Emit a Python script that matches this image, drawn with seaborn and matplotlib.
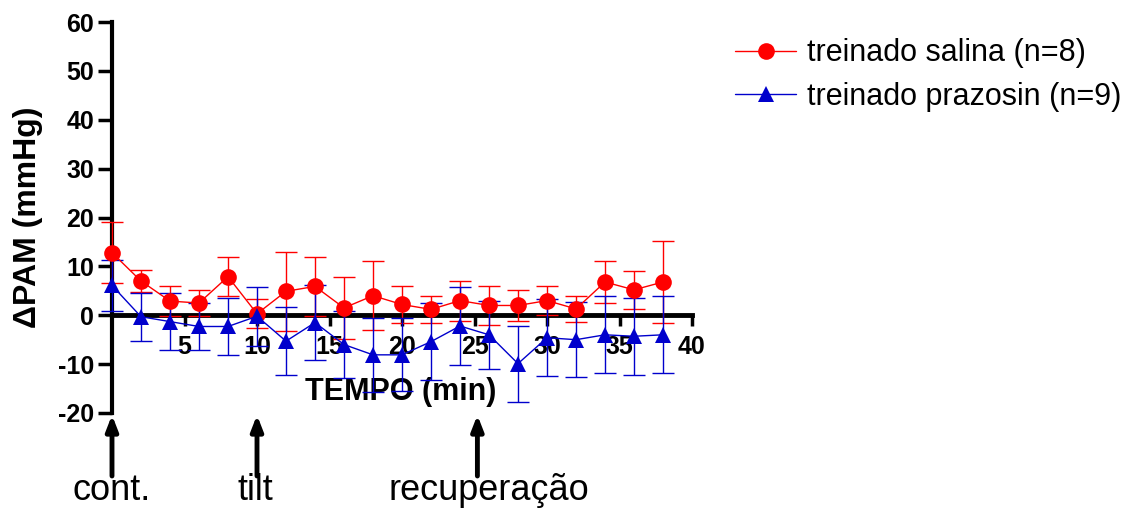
import matplotlib
matplotlib.use("Agg")
import matplotlib.pyplot as plt
import numpy as np
import pandas as pd
import seaborn as sns

# ---- data ----
tempo = [0, 2, 4, 6, 8, 10, 12, 14, 16, 18, 20, 22, 24, 26, 28, 30, 32, 34, 36, 38]
salina_mean = [12.8, 7.0, 2.9, 2.5, 7.9, 0.3, 4.9, 5.9, 1.5, 4.0, 2.2, 1.2, 3.0, 2.0, 2.0, 3.0, 1.3, 6.8, 5.2, 6.8]
salina_sem = [6.3, 2.2, 3.0, 2.6, 4.0, 3.0, 8.1, 6.0, 6.4, 7.0, 3.7, 2.7, 4.1, 3.9, 3.1, 2.9, 2.6, 4.2, 3.9, 8.3]
prazosin_mean = [6.1, -0.3, -1.3, -2.3, -2.3, -0.2, -5.3, -1.5, -6.0, -8.1, -8.1, -5.4, -2.2, -4.0, -9.9, -4.6, -5.0, -4.0, -4.3, -4.0]
prazosin_sem = [5.3, 4.9, 5.9, 4.8, 5.9, 6.0, 6.9, 7.7, 6.8, 7.6, 7.5, 7.9, 7.9, 6.9, 7.8, 7.9, 7.7, 7.9, 7.9, 7.9]
series_labels = ["treinado salina (n=8)", "treinado prazosin (n=9)"]
x_ticks = [5, 10, 15, 20, 25, 30, 35, 40]
y_ticks = [-20, -10, 0, 10, 20, 30, 40, 50, 60]
events = ["cont.", "tilt", "recuperação"]
event_x = [0, 10, 25.2]
event_text_x = [0, 9.9, 26.0]

colors = {series_labels[0]: "#FF0000", series_labels[1]: "#0000CC"}

df = pd.DataFrame({
    "tempo": tempo * 2,
    "pam": salina_mean + prazosin_mean,
    "grupo": [series_labels[0]] * len(tempo) + [series_labels[1]] * len(tempo),
})

sns.set_style("ticks")
plt.rcParams["font.family"] = ["Liberation Sans", "DejaVu Sans"]
plt.rcParams.update({
    "text.color": "black", "axes.labelcolor": "black",
    "xtick.color": "black", "ytick.color": "black",
    "axes.unicode_minus": False,
})

fig = plt.figure(figsize=(11.43, 5.12), dpi=100)
ax = fig.add_axes([112 / 1143, 1 - 413 / 512, 580 / 1143, 391 / 512])

# error bars (SEM)
for lab, m, s in [(series_labels[0], salina_mean, salina_sem),
                  (series_labels[1], prazosin_mean, prazosin_sem)]:
    ax.errorbar(tempo, m, yerr=s, fmt="none", ecolor=colors[lab],
                elinewidth=1.0, capsize=8, capthick=1.0, clip_on=False, zorder=3)

sns.lineplot(data=df, x="tempo", y="pam", hue="grupo", style="grupo",
             palette=colors, markers={series_labels[0]: "o", series_labels[1]: "^"},
             dashes=False, linewidth=1.0, markersize=12, markeredgewidth=0,
             ax=ax, legend=True, zorder=4)
for ln in ax.lines:
    ln.set_clip_on(False)

ax.set_xlim(0, 40)
ax.set_ylim(-20, 60)

# spines
for sp in ["top", "right"]:
    ax.spines[sp].set_visible(False)
ax.spines["left"].set_linewidth(3.0)
ax.spines["left"].set_color("black")
ax.spines["bottom"].set_position(("data", 0))
ax.spines["bottom"].set_linewidth(3.5)
ax.spines["bottom"].set_color("black")
ax.spines["bottom"].set_bounds(0, 40)

ax.set_xticks(x_ticks)
ax.set_yticks(y_ticks)
ax.tick_params(axis="both", which="major", direction="out", length=8, width=2.5,
               color="black", labelsize=18, bottom=True, left=True)
ax.tick_params(axis="y", length=10, pad=3)
ax.tick_params(axis="x", pad=6)
for t in ax.get_xticklabels() + ax.get_yticklabels():
    t.set_fontweight("bold")

ax.set_xlabel("TEMPO (min)", fontsize=22, fontweight="bold")
ax.xaxis.set_label_coords(0.497, 0.054)
ax.xaxis.label.set_va("center")
ax.set_ylabel("ΔPAM (mmHg)", fontsize=23, fontweight="bold")
ax.yaxis.set_label_coords(-0.145, 0.5)
ax.yaxis.label.set_va("center")

# legend
handles, labels = ax.get_legend_handles_labels()
ax.legend(handles, labels, loc="upper left", bbox_to_anchor=(723 / 1143, 1 - 26 / 512),
          bbox_transform=fig.transFigure, frameon=False, fontsize=22,
          handlelength=2.0, handletextpad=0.35, labelspacing=0.45, borderaxespad=0)

# event arrows and labels
for name, xa, xt in zip(events, event_x, event_text_x):
    ax.annotate("", xy=(xa, 1 - 415 / 512), xytext=(xa, 1 - 476 / 512),
                xycoords=("data", "figure fraction"), textcoords=("data", "figure fraction"),
                arrowprops=dict(arrowstyle="-|>,head_length=0.9,head_width=0.35",
                                lw=3.5, color="black", shrinkA=0, shrinkB=0),
                annotation_clip=False)
    ax.annotate(name, xy=(xt, 1 - 490 / 512), xycoords=("data", "figure fraction"),
                ha="center", va="center", fontsize=26, annotation_clip=False)

fig.savefig("out.png", dpi=100)
